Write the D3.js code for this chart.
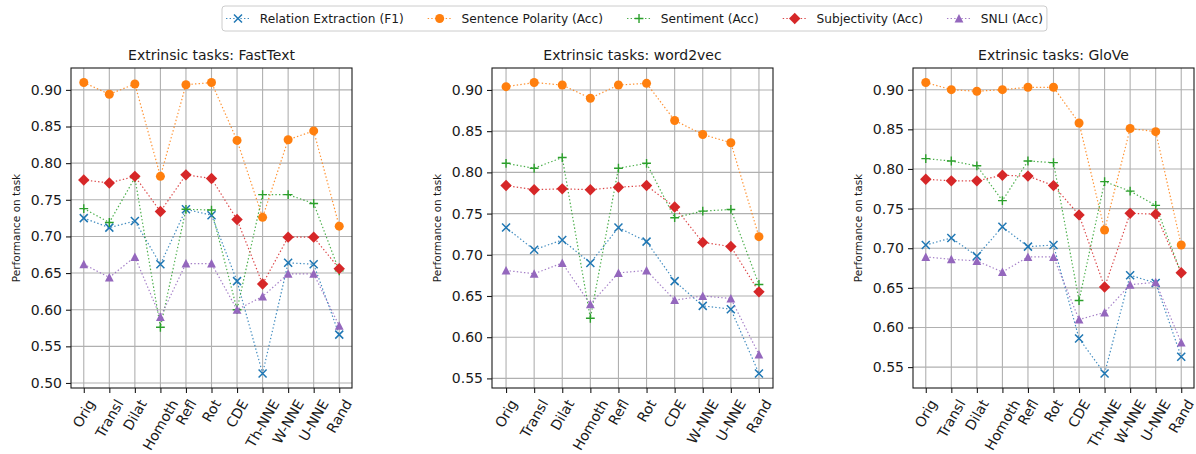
<!DOCTYPE html>
<html>
<head>
<meta charset="utf-8">
<script src="https://cdn.jsdelivr.net/npm/d3@7"></script>
<style>
body { margin: 0; background: #fff; }
text { font-family: "DejaVu Sans", sans-serif; fill: #1a1a1a; }
</style>
</head>
<body>
<div id="chart"></div>
<script>
var W = 1196, H = 454;

// legend / series
var seriesNames = ["Relation Extraction (F1)", "Sentence Polarity (Acc)", "Sentiment (Acc)", "Subjectivity (Acc)", "SNLI (Acc)"];
var seriesColors = ["#1f77b4", "#ff7f0e", "#2ca02c", "#d62728", "#9467bd"];
var seriesMarkers = ["x", "circle", "plus", "diamond", "triangle"];

// FastText
var ftCats = ["Orig", "Transl", "Dilat", "Homoth", "Refl", "Rot", "CDE", "Th-NNE", "W-NNE", "U-NNE", "Rand"];
var ftRelation     = [0.725, 0.712, 0.721, 0.662, 0.737, 0.729, 0.639, 0.513, 0.664, 0.662, 0.566];
var ftPolarity     = [0.910, 0.894, 0.908, 0.782, 0.907, 0.910, 0.831, 0.726, 0.832, 0.844, 0.714];
var ftSentiment    = [0.738, 0.719, 0.780, 0.576, 0.737, 0.736, 0.600, 0.757, 0.757, 0.745, 0.653];
var ftSubjectivity = [0.777, 0.773, 0.782, 0.734, 0.784, 0.779, 0.723, 0.635, 0.699, 0.699, 0.656];
var ftSnli         = [0.662, 0.644, 0.672, 0.590, 0.663, 0.663, 0.600, 0.618, 0.649, 0.649, 0.578];

// word2vec
var w2vCats = ["Orig", "Transl", "Dilat", "Homoth", "Refl", "Rot", "CDE", "W-NNE", "U-NNE", "Rand"];
var w2vRelation     = [0.733, 0.706, 0.718, 0.690, 0.733, 0.716, 0.668, 0.638, 0.634, 0.556];
var w2vPolarity     = [0.904, 0.909, 0.906, 0.890, 0.906, 0.908, 0.863, 0.846, 0.836, 0.722];
var w2vSentiment    = [0.811, 0.805, 0.818, 0.623, 0.805, 0.811, 0.745, 0.753, 0.755, 0.664];
var w2vSubjectivity = [0.784, 0.779, 0.780, 0.779, 0.782, 0.784, 0.758, 0.715, 0.710, 0.655];
var w2vSnli         = [0.681, 0.677, 0.690, 0.640, 0.678, 0.681, 0.645, 0.650, 0.647, 0.579];

// GloVe
var glCats = ["Orig", "Transl", "Dilat", "Homoth", "Refl", "Rot", "CDE", "Th-NNE", "W-NNE", "U-NNE", "Rand"];
var glRelation     = [0.704, 0.713, 0.690, 0.727, 0.702, 0.704, 0.586, 0.542, 0.666, 0.656, 0.563];
var glPolarity     = [0.909, 0.900, 0.898, 0.900, 0.903, 0.903, 0.858, 0.723, 0.851, 0.847, 0.704];
var glSentiment    = [0.813, 0.810, 0.804, 0.760, 0.810, 0.808, 0.634, 0.784, 0.772, 0.754, 0.668];
var glSubjectivity = [0.787, 0.785, 0.785, 0.792, 0.791, 0.779, 0.742, 0.651, 0.744, 0.743, 0.669];
var glSnli         = [0.689, 0.686, 0.684, 0.670, 0.689, 0.689, 0.610, 0.619, 0.654, 0.657, 0.581];

var yTickStep = 0.05;

var panels = [
  {title: "Extrinsic tasks: FastText", cats: ftCats, left: 71,
   series: [ftRelation, ftPolarity, ftSentiment, ftSubjectivity, ftSnli]},
  {title: "Extrinsic tasks: word2vec", cats: w2vCats, left: 492,
   series: [w2vRelation, w2vPolarity, w2vSentiment, w2vSubjectivity, w2vSnli]},
  {title: "Extrinsic tasks: GloVe", cats: glCats, left: 913,
   series: [glRelation, glPolarity, glSentiment, glSubjectivity, glSnli]}
];

var plotW = 281, plotTop = 68, plotBottom = 388;
var tickLen = 5;

var svg = d3.select("#chart").append("svg")
    .attr("width", W)
    .attr("height", H);

function drawMarker(sel, type, color) {
  if (type == "x") {
    sel.append("path").attr("d", "M-4,-4L4,4M-4,4L4,-4")
      .attr("stroke", color).attr("stroke-width", 1.5).attr("fill", "none");
  } else if (type == "plus") {
    sel.append("path").attr("d", "M-4.4,0H4.4M0,-4.4V4.4")
      .attr("stroke", color).attr("stroke-width", 1.4).attr("fill", "none");
  } else if (type == "circle") {
    sel.append("circle").attr("r", 4.5).attr("fill", color);
  } else if (type == "diamond") {
    sel.append("path").attr("d", "M0,-5.7L5.7,0L0,5.7L-5.7,0Z").attr("fill", color);
  } else if (type == "triangle") {
    sel.append("path").attr("d", "M0,-4.5L4.4,4L-4.4,4Z").attr("fill", color);
  }
}

panels.forEach(function(p) {
  var g = svg.append("g");
  var n = p.cats.length;

  var xScale = d3.scaleLinear()
      .domain([-0.5, n - 0.5])
      .range([p.left, p.left + plotW]);

  // matplotlib style autoscale: 5% margin on data range
  var all = d3.merge(p.series);
  var ext = d3.extent(all);
  var pad = (ext[1] - ext[0]) * 0.05;
  var yScale = d3.scaleLinear()
      .domain([ext[0] - pad, ext[1] + pad])
      .range([plotBottom, plotTop]);

  var yTicks = d3.range(Math.ceil((ext[0] - pad) / yTickStep - 1e-9), Math.floor((ext[1] + pad) / yTickStep + 1e-9) + 1)
      .map(function(k) { return k * yTickStep; });

  // grid
  g.selectAll(".hgrid").data(yTicks).enter().append("line")
    .attr("x1", p.left).attr("x2", p.left + plotW)
    .attr("y1", function(d) { return yScale(d); })
    .attr("y2", function(d) { return yScale(d); })
    .attr("stroke", "#b0b0b0").attr("stroke-width", 1.1);

  g.selectAll(".vgrid").data(d3.range(n)).enter().append("line")
    .attr("x1", function(d) { return xScale(d); })
    .attr("x2", function(d) { return xScale(d); })
    .attr("y1", plotTop).attr("y2", plotBottom)
    .attr("stroke", "#b0b0b0").attr("stroke-width", 1.1);

  // axes
  var yAxis = d3.axisLeft(yScale).tickValues(yTicks)
      .tickFormat(d3.format(".2f")).tickSizeOuter(0).tickSize(tickLen).tickPadding(4);
  var ya = g.append("g").attr("transform", "translate(" + p.left + ",0)").call(yAxis);
  ya.select(".domain").remove();
  ya.selectAll("line").attr("stroke", "#1a1a1a").attr("stroke-width", 1.1);
  ya.selectAll("text").attr("font-size", 14).attr("font-family", "DejaVu Sans");

  var xAxis = d3.axisBottom(xScale).tickValues(d3.range(n))
      .tickFormat("").tickSizeOuter(0).tickSize(tickLen);
  var xa = g.append("g").attr("transform", "translate(0," + plotBottom + ")").call(xAxis);
  xa.select(".domain").remove();
  xa.selectAll("line").attr("stroke", "#1a1a1a").attr("stroke-width", 1.1);

  // rotated category labels, bbox centred under tick like matplotlib
  var fs = 14;
  var sin60 = Math.sin(Math.PI / 3), cos60 = 0.5;
  p.cats.forEach(function(c, i) {
    var t = g.append("text")
      .attr("font-size", fs)
      .attr("text-anchor", "middle")
      .attr("dominant-baseline", "central")
      .text(c);
    var w = t.node().getComputedTextLength();
    var h = fs * 0.78;
    var cy = plotBottom + tickLen + 5 + (w * sin60 + h * cos60) / 2;
    t.attr("transform", "translate(" + xScale(i) + "," + cy + ")rotate(-60)");
  });

  // series
  var line = d3.line()
      .x(function(d, i) { return xScale(i); })
      .y(function(d) { return yScale(d); });

  p.series.forEach(function(vals, s) {
    g.append("path")
      .attr("d", line(vals))
      .attr("fill", "none")
      .attr("stroke", seriesColors[s])
      .attr("stroke-width", 1.2)
      .attr("stroke-dasharray", "1.4,2.2")
      .attr("opacity", 0.85);
    vals.forEach(function(v, i) {
      var m = g.append("g").attr("transform", "translate(" + xScale(i) + "," + yScale(v) + ")");
      drawMarker(m, seriesMarkers[s], seriesColors[s]);
    });
  });

  // frame
  g.append("rect")
    .attr("x", p.left).attr("y", plotTop)
    .attr("width", plotW).attr("height", plotBottom - plotTop)
    .attr("fill", "none").attr("stroke", "#1a1a1a").attr("stroke-width", 1.1);

  // title
  g.append("text")
    .attr("x", p.left + plotW / 2).attr("y", 60)
    .attr("text-anchor", "middle")
    .attr("font-size", 14)
    .text(p.title);

  // y label
  g.append("text")
    .attr("transform", "translate(" + (p.left - 51) + "," + ((plotTop + plotBottom) / 2) + ")rotate(-90)")
    .attr("text-anchor", "middle")
    .attr("font-size", 10.5)
    .text("Performance on task");
});

// legend
var legend = svg.append("g");
var legFs = 12.2, handleLen = 24, handlePad = 9.8, colSpace = 24;
var legX = 226, legY = 18.5;
var box = legend.append("rect")
    .attr("y", 6).attr("height", 25)
    .attr("x", 222)
    .attr("rx", 3)
    .attr("fill", "#fff")
    .attr("stroke", "#cccccc").attr("stroke-width", 1);

var cx = legX;
seriesNames.forEach(function(name, s) {
  legend.append("line")
    .attr("x1", cx).attr("x2", cx + handleLen)
    .attr("y1", legY).attr("y2", legY)
    .attr("stroke", seriesColors[s])
    .attr("stroke-width", 1.2)
    .attr("stroke-dasharray", "1.4,2.2")
    .attr("opacity", 0.85);
  var m = legend.append("g").attr("transform", "translate(" + (cx + handleLen / 2) + "," + legY + ")");
  drawMarker(m, seriesMarkers[s], seriesColors[s]);
  var t = legend.append("text")
    .attr("x", cx + handleLen + handlePad)
    .attr("y", legY)
    .attr("dy", "0.35em")
    .attr("font-size", legFs)
    .text(name);
  cx += handleLen + handlePad + t.node().getComputedTextLength();
  if (s < seriesNames.length - 1) cx += colSpace;
});
box.attr("width", cx + 4 - 222);
</script>
</body>
</html>
